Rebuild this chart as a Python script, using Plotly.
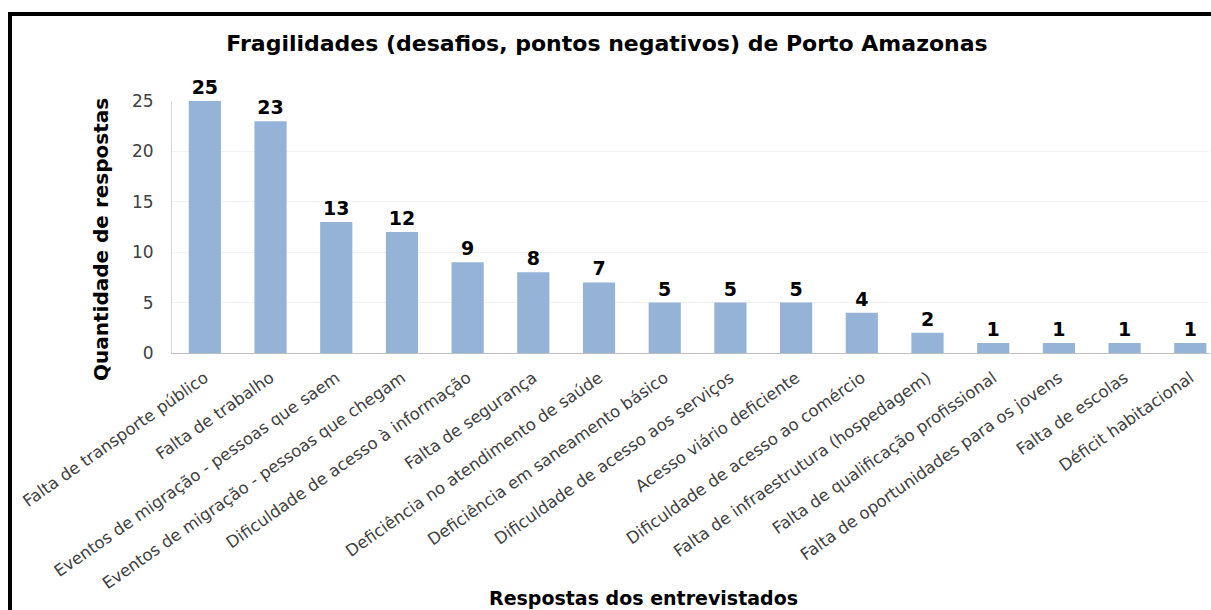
import plotly.graph_objects as go

# Respostas e contagens
categorias = [
    "Falta de transporte público",
    "Falta de trabalho",
    "Eventos de migração - pessoas que saem",
    "Eventos de migração - pessoas que chegam",
    "Dificuldade de acesso à informação",
    "Falta de segurança",
    "Deficiência no atendimento de saúde",
    "Deficiência em saneamento básico",
    "Dificuldade de acesso aos serviços",
    "Acesso viário deficiente",
    "Dificuldade de acesso ao comércio",
    "Falta de infraestrutura (hospedagem)",
    "Falta de qualificação profissional",
    "Falta de oportunidades para os jovens",
    "Falta de escolas",
    "Déficit habitacional",
]
respostas = [25, 23, 13, 12, 9, 8, 7, 5, 5, 5, 4, 2, 1, 1, 1, 1]
y_ticks = [0, 5, 10, 15, 20, 25]

FONT = "DejaVu Sans"
W, H = 1211, 610
ML, MR, MT, MB = 172, 1, 101, 257
pw = W - ML - MR
ph = H - MT - MB


def px_x(px):
    return (px - ML) / pw


def px_y(py):
    return (H - MB - py) / ph


fig = go.Figure(
    go.Bar(
        x=categorias,
        y=respostas,
        marker=dict(color="#95B3D7", line=dict(width=0)),
        text=respostas,
        textposition="outside",
        textfont=dict(family=FONT, size=19, color="#000000", weight="bold"),
        cliponaxis=False,
        width=0.49,
    )
)

fig.update_layout(
    width=W,
    height=H,
    margin=dict(l=ML, r=MR, t=MT, b=MB),
    paper_bgcolor="white",
    plot_bgcolor="white",
    showlegend=False,
    font=dict(family=FONT),
    title=dict(
        text="<b>Fragilidades (desafios, pontos negativos) de Porto Amazonas</b>",
        x=607 / W,
        xanchor="center",
        y=1 - 43 / H,
        yanchor="middle",
        font=dict(family=FONT, size=22, color="#000000"),
    ),
    xaxis=dict(
        range=[-0.5, 15.3],
        tickangle=-35,
        tickfont=dict(family=FONT, size=16.5, color="#404040"),
        showline=True,
        linecolor="#bfbfbf",
        linewidth=1,
        ticks="",
        showgrid=False,
        ticklabelstandoff=8,
    ),
    yaxis=dict(
        range=[0, 25],
        tickvals=y_ticks,
        tickfont=dict(family=FONT, size=17, color="#404040"),
        showline=True,
        linecolor="#d9d9d9",
        linewidth=1,
        gridcolor="#f2f2f2",
        gridwidth=1,
        zeroline=False,
        ticks="",
        ticklabelstandoff=14,
    ),
    annotations=[
        dict(
            text="<b>Quantidade de respostas</b>",
            x=px_x(101), y=px_y(240),
            xref="paper", yref="paper",
            xanchor="center", yanchor="middle",
            textangle=-90, showarrow=False,
            font=dict(family=FONT, size=20, color="#000000"),
        ),
        dict(
            text="<b>Respostas dos entrevistados</b>",
            x=px_x(643), y=px_y(598),
            xref="paper", yref="paper",
            xanchor="center", yanchor="middle",
            showarrow=False,
            font=dict(family=FONT, size=19, color="#000000"),
        ),
    ],
    shapes=[
        dict(type="line", xref="paper", yref="paper",
             x0=px_x(10), x1=px_x(10), y0=px_y(12), y1=px_y(615),
             line=dict(color="#000000", width=4)),
        dict(type="line", xref="paper", yref="paper",
             x0=px_x(8), x1=px_x(1215), y0=px_y(14), y1=px_y(14),
             line=dict(color="#000000", width=4)),
    ],
)

fig.write_html("out.html")
